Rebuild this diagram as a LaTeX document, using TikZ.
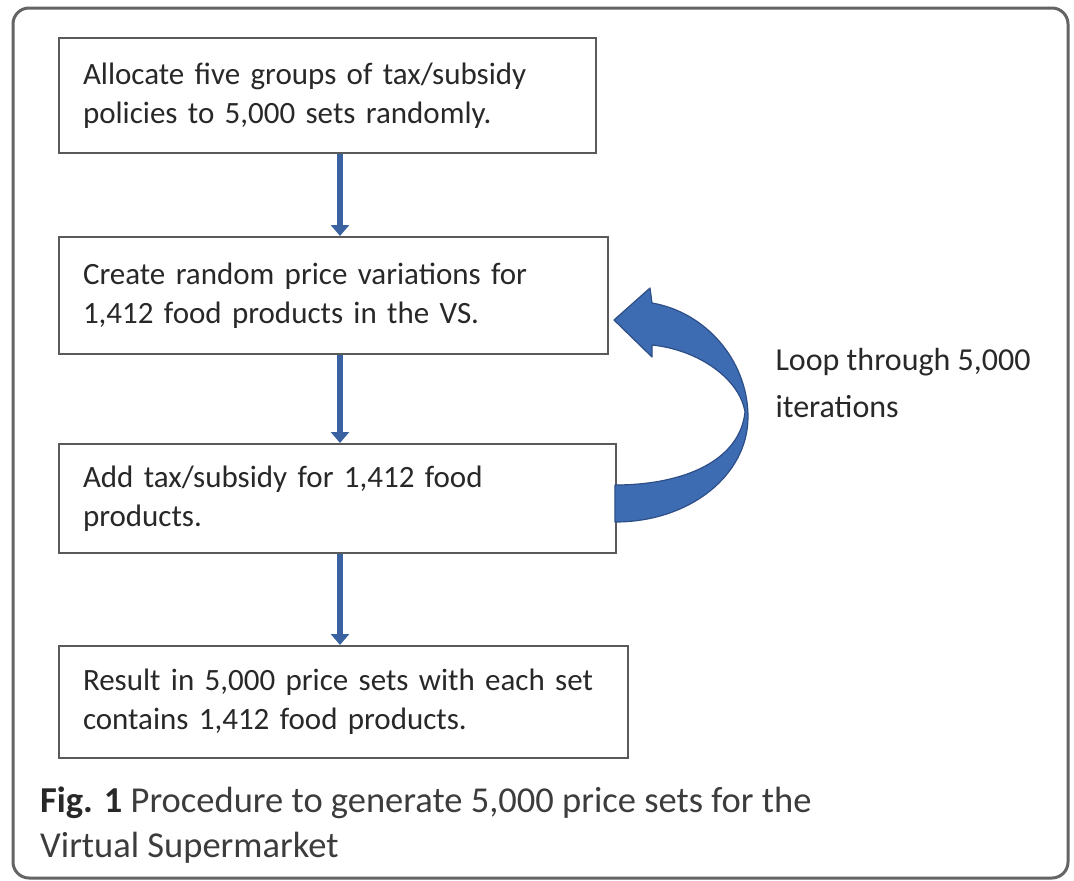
\documentclass[tikz,border=0pt]{standalone}
\usepackage{fontspec}
\setmainfont{Carlito}
\usetikzlibrary{arrows.meta}
\definecolor{boxline}{RGB}{90,90,90}
\definecolor{frameline}{RGB}{100,100,100}
\definecolor{txt}{RGB}{40,40,40}
\definecolor{capt}{RGB}{60,60,60}
\definecolor{arrblue}{RGB}{58,98,160}
\definecolor{loopfill}{RGB}{62,108,178}
\definecolor{loopline}{RGB}{45,78,135}
\tikzset{
  stepbox/.style={draw=boxline, line width=2pt, fill=white, anchor=north west,
    align=left, inner xsep=24pt, inner ysep=0pt, text=txt,
    font=\fontsize{31}{39}\selectfont},
  varrow/.style={draw=arrblue, line width=6pt, -{Triangle[width=18pt,length=11pt]}},
  frame/.style={draw=frameline, line width=3pt, rounded corners=16pt},
}
\begin{document}
\begin{tikzpicture}[x=1pt,y=-1pt]
\useasboundingbox (0,0) rectangle (1074,881);
\draw[frame] (13,8) rectangle (1068,878);
\node[stepbox, minimum width=537pt, minimum height=115pt, text width=489pt] (b1) at (58,37)
  {Allocate five groups of tax/subsidy\\policies to 5,000 sets randomly.};
\node[stepbox, minimum width=549pt, minimum height=117pt, text width=501pt] (b2) at (58,236)
  {Create random price variations for\\1,412 food products in the VS.};
\node[stepbox, minimum width=557pt, minimum height=109pt, text width=509pt] (b3) at (58,443)
  {Add tax/subsidy for 1,412 food\\products.};
\node[stepbox, minimum width=569pt, minimum height=112pt, text width=521pt] (b4) at (58,645)
  {Result in 5,000 price sets with each set\\contains 1,412 food products.};
\coordinate (ax) at (340,0);
\draw[varrow] (b1.south -| ax) -- (b2.north -| ax);
\draw[varrow] (b2.south -| ax) -- (b3.north -| ax);
\draw[varrow] (b3.south -| ax) -- (b4.north -| ax);
% curved loop arrow
\filldraw[fill=loopfill, draw=loopline, line width=1.2pt, line join=round]
  (615,522) .. controls (690,522) and (748,475) .. (748,417)
  .. controls (748,360) and (705,312) .. (652,303)
  -- (650,288) -- (614,320) -- (652,357) -- (652,345)
  .. controls (700,350) and (740,380) .. (745,412)
  .. controls (740,460) and (685,485) .. (615,485) -- cycle;
\node[anchor=base west, align=left, text=txt, font=\fontsize{32}{47}\selectfont] (loop) at (772,417)
  {Loop through 5,000\\iterations};
\node[anchor=base west, align=left, text=capt, inner sep=0pt, font=\fontsize{36.5}{45}\selectfont] (cap) at (40,857)
  {\textbf{\color{txt}Fig. 1} Procedure to generate 5,000 price sets for the\\Virtual Supermarket};
\end{tikzpicture}
\end{document}
